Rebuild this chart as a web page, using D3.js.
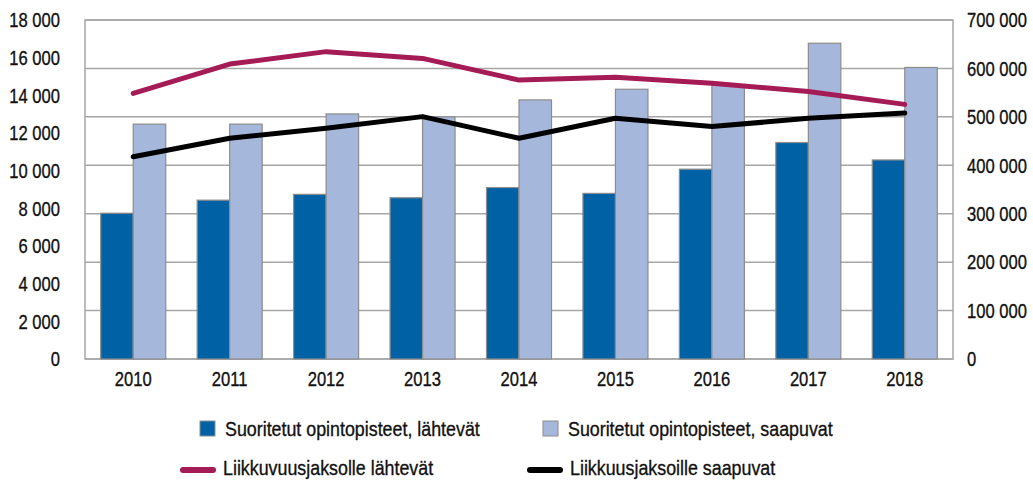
<!DOCTYPE html>
<html>
<head>
<meta charset="utf-8">
<script src="https://cdn.jsdelivr.net/npm/d3@7"></script>
<style>
  body { margin: 0; background: #fff; }
  text { font-family: "Liberation Sans", Arial, sans-serif; fill: #111; stroke: #111; stroke-width: 0.35px; }
</style>
</head>
<body>
<div id="chart"></div>
<script>
// data
var years = ["2010", "2011", "2012", "2013", "2014", "2015", "2016", "2017", "2018"];
// bars -> right axis (credits)
var credits_out = [301000, 328000, 340000, 333000, 354000, 342000, 392000, 447000, 411000];
var credits_in = [485000, 485000, 506000, 500000, 535000, 557000, 565000, 652000, 602000];
// lines -> left axis (students)
var students_out = [14100, 15660, 16320, 15960, 14810, 14960, 14640, 14200, 13520];
var students_in = [10740, 11720, 12250, 12870, 11720, 12780, 12340, 12780, 13060];

var left_ticks = [0, 2000, 4000, 6000, 8000, 10000, 12000, 14000, 16000, 18000];
var right_ticks = [0, 100000, 200000, 300000, 400000, 500000, 600000, 700000];

var legend_labels = ["Suoritetut opintopisteet, lähtevät", "Suoritetut opintopisteet, saapuvat",
                     "Liikkuvuusjaksolle lähtevät", "Liikkuusjaksoille saapuvat"];

var dark_blue = "#0062a5";
var light_blue = "#a5b8db";
var magenta = "#a51b55";

var width = 1033, height = 484;
var margin = {top: 20, right: 80, bottom: 125, left: 85};
var plot_w = width - margin.left - margin.right;
var plot_h = height - margin.top - margin.bottom;

// no narrow font installed, so squeeze the text horizontally
function condense(sel, k) {
    sel.each(function() {
        var t = d3.select(this);
        var xx = +t.attr("x") || 0;
        t.attr("x", xx / k).attr("transform", "scale(" + k + ",1)");
    });
}

var svg = d3.select("#chart").append("svg")
    .attr("width", width)
    .attr("height", height);

var g = svg.append("g")
    .attr("transform", "translate(" + margin.left + "," + margin.top + ")");

var x = d3.scaleBand()
    .domain(years)
    .range([0, plot_w])
    .paddingInner(0.326)
    .paddingOuter(0.163);

var x_inner = d3.scaleBand()
    .domain(["out", "in"])
    .range([0, x.bandwidth()]);

var y_left = d3.scaleLinear().domain([0, 18000]).range([plot_h, 0]);
var y_right = d3.scaleLinear().domain([0, 700000]).range([plot_h, 0]);

var fmt = function(d) { return d3.format(",")(d).replace(/,/g, " "); };

// gridlines follow the right axis ticks
g.append("g")
    .selectAll("line")
    .data(right_ticks)
    .enter()
    .append("line")
    .attr("x1", 0)
    .attr("x2", plot_w)
    .attr("y1", function(d) { return y_right(d); })
    .attr("y2", function(d) { return y_right(d); })
    .style("stroke", "#a6a6a6")
    .style("stroke-width", 1.5);

// frame
g.append("rect")
    .attr("x", 0)
    .attr("y", 0)
    .attr("width", plot_w)
    .attr("height", plot_h)
    .style("fill", "none")
    .style("stroke", "#a6a6a6")
    .style("stroke-width", 1.5);

// bars
var bar_data = years.map(function(yr, i) {
    return [{year: yr, key: "out", v: credits_out[i]}, {year: yr, key: "in", v: credits_in[i]}];
});

g.append("g")
    .selectAll("g")
    .data(bar_data)
    .enter()
    .append("g")
    .attr("transform", function(d) { return "translate(" + x(d[0].year) + ",0)"; })
    .selectAll("rect")
    .data(function(d) { return d; })
    .enter()
    .append("rect")
    .attr("x", function(d) { return x_inner(d.key); })
    .attr("y", function(d) { return y_right(d.v); })
    .attr("width", x_inner.bandwidth())
    .attr("height", function(d) { return plot_h - y_right(d.v); })
    .style("fill", function(d) { return d.key == "out" ? dark_blue : light_blue; })
    .style("stroke", "#8c8c8c")
    .style("stroke-width", 1.2);

// lines
var line = d3.line()
    .x(function(d, i) { return x(years[i]) + x.bandwidth() / 2; })
    .y(function(d) { return y_left(d); });

g.append("path")
    .datum(students_out)
    .attr("d", line)
    .style("fill", "none")
    .style("stroke", magenta)
    .style("stroke-width", 5)
    .style("stroke-linecap", "round")
    .style("stroke-linejoin", "round");

g.append("path")
    .datum(students_in)
    .attr("d", line)
    .style("fill", "none")
    .style("stroke", "#000")
    .style("stroke-width", 5)
    .style("stroke-linecap", "round")
    .style("stroke-linejoin", "round");

// axes - no lines, only labels
var left_axis = g.append("g")
    .call(d3.axisLeft(y_left).tickValues(left_ticks).tickFormat(fmt).tickSize(0).tickPadding(25));
var right_axis = g.append("g")
    .attr("transform", "translate(" + plot_w + ",0)")
    .call(d3.axisRight(y_right).tickValues(right_ticks).tickFormat(fmt).tickSize(0).tickPadding(14));
var bottom_axis = g.append("g")
    .attr("transform", "translate(0," + plot_h + ")")
    .call(d3.axisBottom(x).tickSize(0).tickPadding(12));

[left_axis, right_axis, bottom_axis].forEach(function(ax) {
    ax.select(".domain").remove();
    ax.selectAll("text").style("font-size", "21px").style("font-family", null);
    condense(ax.selectAll("text"), 0.79);
});

// legend
var legend = svg.append("g");
var sq = [{x: 200, c: dark_blue, t: legend_labels[0]}, {x: 543, c: light_blue, t: legend_labels[1]}];
sq.forEach(function(d) {
    legend.append("rect")
        .attr("x", d.x).attr("y", 421)
        .attr("width", 15).attr("height", 15)
        .style("fill", d.c)
        .style("stroke", "#8c8c8c")
        .style("stroke-width", 1);
    legend.append("text")
        .attr("x", d.x + 25).attr("y", 428.5)
        .attr("dy", "0.35em")
        .style("font-size", "21px")
        .text(d.t);
});

var ln = [{x: 180, c: magenta, t: legend_labels[2]}, {x: 527, c: "#000", t: legend_labels[3]}];
ln.forEach(function(d) {
    legend.append("line")
        .attr("x1", d.x + 3).attr("x2", d.x + 33)
        .attr("y1", 470).attr("y2", 470)
        .style("stroke", d.c)
        .style("stroke-width", 6)
        .style("stroke-linecap", "round");
    legend.append("text")
        .attr("x", d.x + 43).attr("y", 468)
        .attr("dy", "0.35em")
        .style("font-size", "21px")
        .text(d.t);
});
condense(legend.selectAll("text"), 0.85);
</script>
</body>
</html>
